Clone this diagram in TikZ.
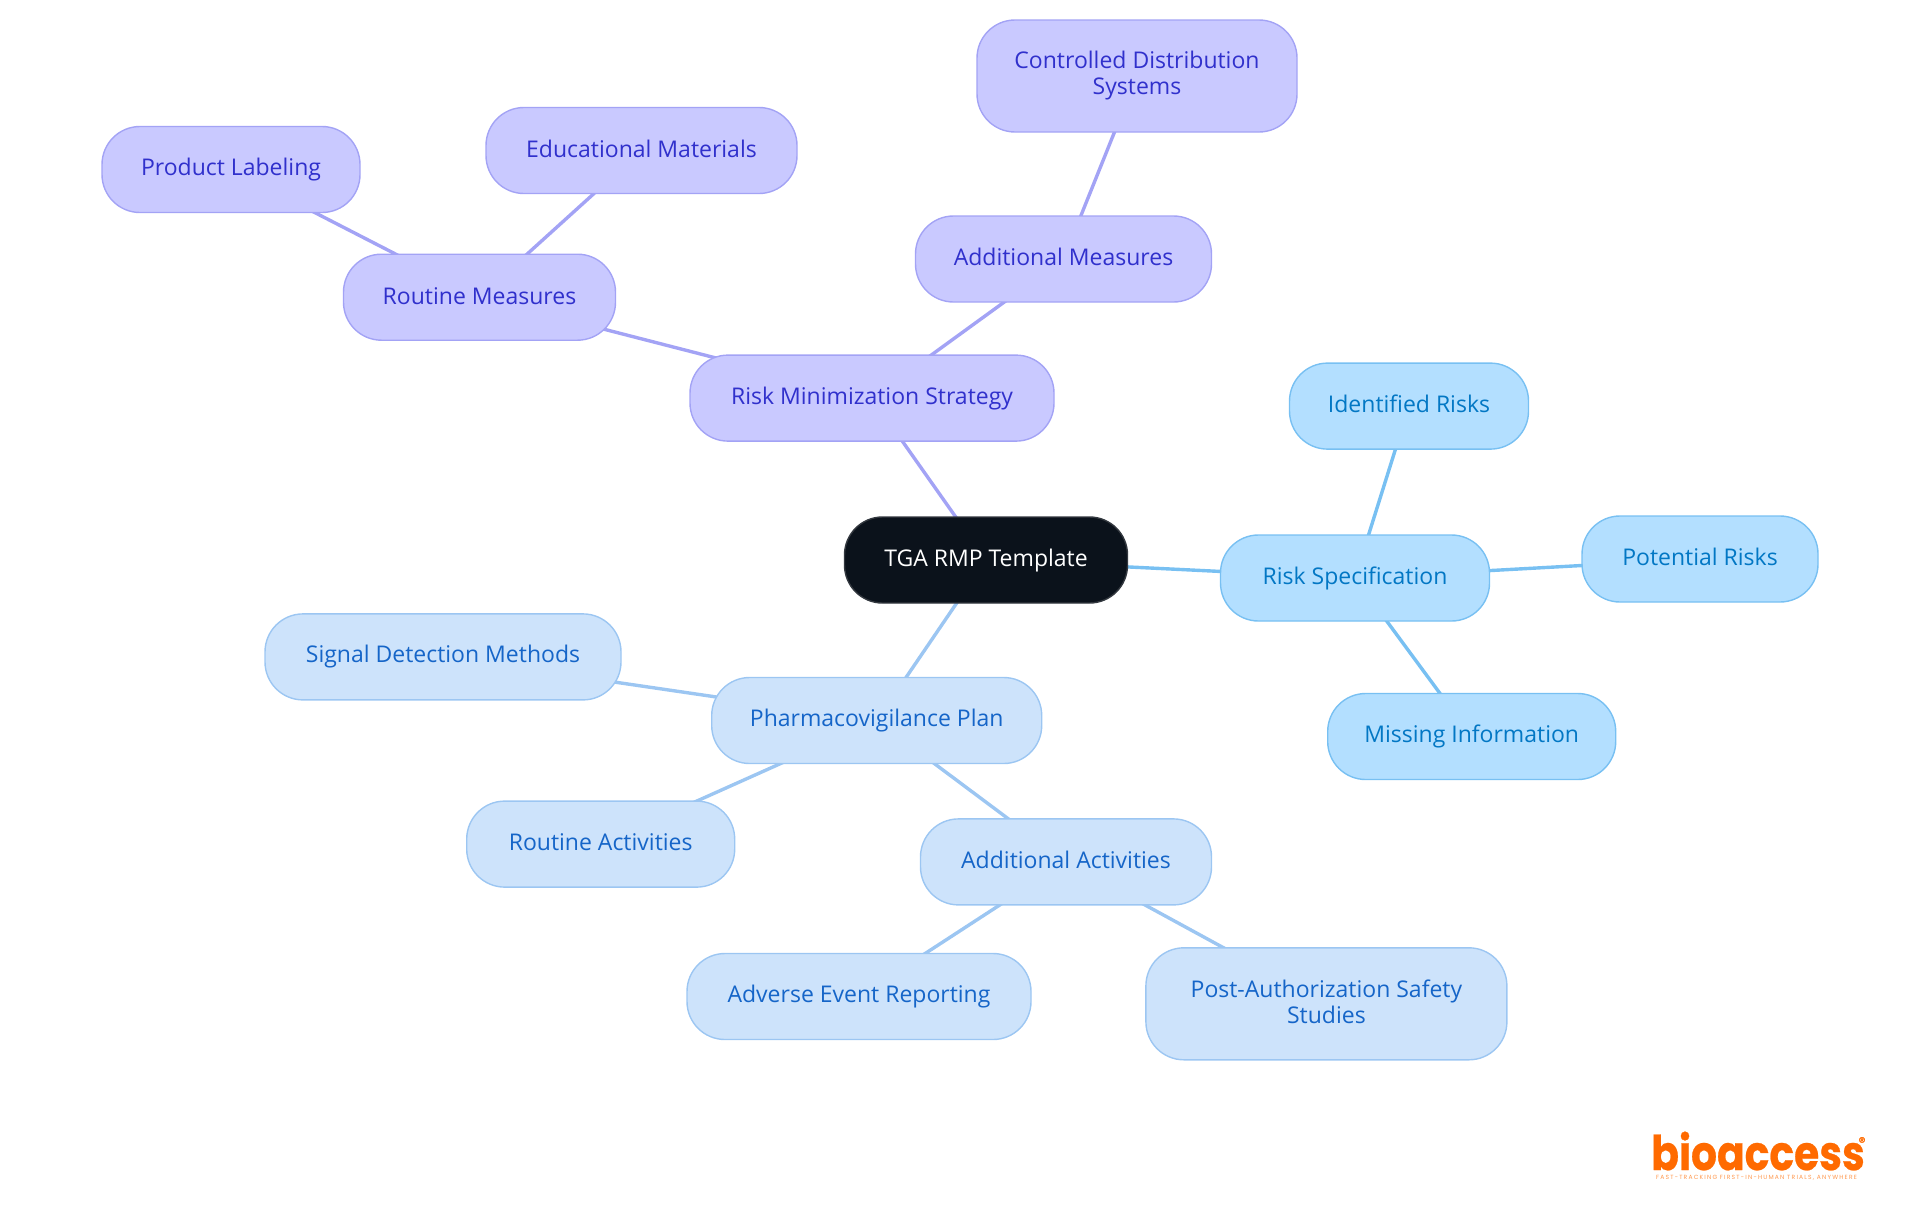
\documentclass[tikz,border=0pt]{standalone}
\usepackage{fontspec}
\setmainfont{Open Sans}
\newfontfamily\logofont[FakeBold=.5]{Poppins}
\newfontfamily\tagfont[LetterSpace=20]{Poppins}
\usetikzlibrary{backgrounds,positioning}
\definecolor{rootfill}{HTML}{0B121B}
\definecolor{rootline}{HTML}{33383F}
\definecolor{purplefill}{HTML}{C9C9FF}
\definecolor{purpleline}{HTML}{A3A3F5}
\definecolor{purpletext}{HTML}{3030CC}
\definecolor{bluefill}{HTML}{CDE3FB}
\definecolor{blueline}{HTML}{9CC6F2}
\definecolor{bluetext}{HTML}{1565C8}
\definecolor{skyfill}{HTML}{B3DFFF}
\definecolor{skyline}{HTML}{78C0F2}
\definecolor{skytext}{HTML}{0277C4}
\definecolor{logoorange}{HTML}{FF6A00}
\tikzset{
    mapnode/.style={rectangle,rounded corners=19pt,line width=.7pt,inner sep=0pt,align=center,
        minimum height=43pt,font=\fontsize{11.5}{13}\selectfont,
        execute at end node={\rule[-2pt]{0pt}{10.8pt}}},
    rootnode/.style={mapnode,fill=rootfill,draw=rootline,text=white},
    purplenode/.style={mapnode,fill=purplefill,draw=purpleline,text=purpletext},
    bluenode/.style={mapnode,fill=bluefill,draw=blueline,text=bluetext},
    skynode/.style={mapnode,fill=skyfill,draw=skyline,text=skytext},
    edge/.style={line width=1.7pt}
}

\begin{document}
\begin{tikzpicture}[x=.5pt,y=-.5pt]

    \useasboundingbox (-1,-.5) rectangle (1919,1214.5);

    % Central node.
    \node[rootnode,minimum width=141.5pt] (tga) at (985,559.5) {TGA RMP Template};

    % Risk minimization branch.
    \node[purplenode,minimum width=182pt] (riskmin) at (871,397.6) {Risk Minimization Strategy};
    \node[purplenode,minimum width=136pt] (routinem) at (478.5,296.7) {Routine Measures};
    \node[purplenode,minimum width=148pt] (addm) at (1062.5,258.5) {Additional Measures};
    \node[purplenode,minimum width=129pt] (labeling) at (230,169) {Product Labeling};
    \node[purplenode,minimum width=155.5pt] (materials) at (640.5,150) {Educational Materials};
    \node[purplenode,minimum width=160pt,minimum height=56pt] (controlled) at (1136,75.5) {Controlled Distribution\\Systems};

    % Risk specification branch.
    \node[skynode,minimum width=134.5pt] (riskspec) at (1354,577.5) {Risk Specification};
    \node[skynode,minimum width=119.5pt] (identified) at (1408,405.6) {Identified Risks};
    \node[skynode,minimum width=118pt] (potential) at (1699,558.5) {Potential Risks};
    \node[skynode,minimum width=144pt] (missing) at (1470.7,736) {Missing Information};

    % Pharmacovigilance branch.
    \node[bluenode,minimum width=165pt] (pharma) at (875.7,720) {Pharmacovigilance Plan};
    \node[bluenode,minimum width=178pt] (signal) at (442,656.4) {Signal Detection Methods};
    \node[bluenode,minimum width=134pt] (routinea) at (599.7,843.6) {Routine Activities};
    \node[bluenode,minimum width=145.5pt] (adda) at (1065,861.4) {Additional Activities};
    \node[bluenode,minimum width=172pt] (adverse) at (858,996) {Adverse Event Reporting};
    \node[bluenode,minimum width=180.5pt,minimum height=56pt] (postauth) at (1325.4,1003.3) {Post-Authorization Safety\\Studies};

    % Draw connectors.
    \begin{scope}[on background layer]
    \foreach \a/\b in {tga/riskmin,riskmin/routinem,riskmin/addm,routinem/labeling,routinem/materials,addm/controlled}
        \draw[edge,purpleline] (\a.center) -- (\b.center);
    \foreach \a/\b in {tga/riskspec,riskspec/identified,riskspec/potential,riskspec/missing}
        \draw[edge,skyline] (\a.center) -- (\b.center);
    \foreach \a/\b in {tga/pharma,pharma/signal,pharma/routinea,pharma/adda,adda/adverse,adda/postauth}
        \draw[edge,blueline] (\a.center) -- (\b.center);
    \end{scope}

    % Logo.
    \node[inner sep=0pt,text=logoorange,font=\logofont\bfseries\fontsize{24}{24}\selectfont] (logo) at (1757,1150.5) {\scalebox{.85}[1]{bioaccess}};
    \node[inner sep=0pt,text=logoorange,font=\logofont\fontsize{7}{7}\selectfont] (logoreg) at (1861,1141.5) {\textregistered};
    \node[inner sep=0pt,text=logoorange!70,font=\tagfont\fontsize{3}{3}\selectfont] (tagline) at (1755.5,1177) {FAST-TRACKING FIRST-IN-HUMAN TRIALS, ANYWHERE};

\end{tikzpicture}
\end{document}
